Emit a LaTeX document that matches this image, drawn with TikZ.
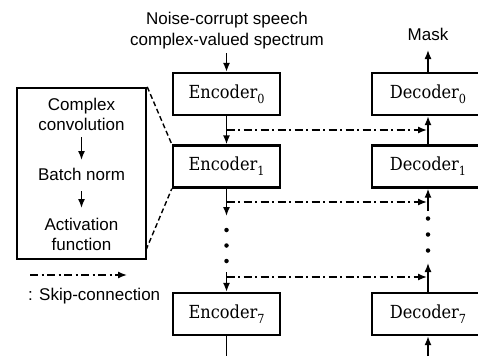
\documentclass[tikz,border=0pt]{standalone}
\usepackage{fontspec}
\setsansfont{Liberation Sans}
\newfontfamily\boxfont{DejaVu Serif Condensed}
\newcommand{\bsub}[1]{\raisebox{-0.28em}{\fontsize{12.5}{13}\selectfont #1}}
\usetikzlibrary{arrows.meta}
\begin{document}
\begin{tikzpicture}[x=1pt,y=-1pt,
 box/.style={draw,line width=2.4pt,minimum width=107pt,minimum height=42pt,inner sep=0pt,font=\boxfont\fontsize{18}{22}\selectfont},
 lbl/.style={font=\sffamily\fontsize{17}{20}\selectfont,inner sep=0pt,anchor=base},
 arr/.style={line width=1.4pt,-{Latex[length=9pt,width=7pt]}},
 ln/.style={line width=1.4pt},
 skipc/.style={line width=1.4pt,dash pattern=on 8pt off 3.5pt on 2pt off 3.5pt,-{Latex[length=9pt,width=7pt]}},
 dotn/.style={circle,fill,inner sep=0pt,minimum size=4.5pt},
 zoomln/.style={line width=1.4pt,dash pattern=on 5pt off 3pt}]
\useasboundingbox (0,0) rectangle (478,356);
% input / output labels
\node[lbl] (in1) at (227,24) {Noise-corrupt speech};
\node[lbl] (in2) at (227,45) {complex-valued spectrum};
\node[lbl] (mask) at (428,40) {Mask};
% encoder / decoder boxes
\node[box] (e0) at (226.5,94) {Encoder\bsub{0}};
\node[box] (e1) at (226.5,166.5) {Encoder\bsub{1}};
\node[box] (e7) at (226.5,314) {Encoder\bsub{7}};
\node[box] (d0) at (425.5,94) {\kern5pt Decoder\bsub{0}};
\node[box] (d1) at (425.5,166.5) {\kern5pt Decoder\bsub{1}};
\node[box] (d7) at (425.5,314) {\kern5pt Decoder\bsub{7}};
% encoder column
\coordinate (inA) at (226.5,53);
\draw[arr] (inA) -- (e0.north);
\draw[arr] (e0.south) -- (e1.north);
\coordinate (e1out) at (226.5,216);
\draw[arr] (e1.south) -- (e1out);
\node[dotn] (ed1) at (226.5,230) {};
\node[dotn] (ed2) at (226.5,245.5) {};
\node[dotn] (ed3) at (226.5,261) {};
\coordinate (e7in) at (226.5,272);
\draw[arr] (e7in) -- (e7.north);
\coordinate (ebot) at (226.5,356);
\draw[ln] (e7.south) -- (ebot);
% decoder column
\coordinate (dc) at (428,0);
\coordinate (mk) at (428,50);
\draw[arr] (d0.north -| dc) -- (mk);
\draw[arr] (d1.north -| dc) -- (d0.south -| dc);
\coordinate (d1in) at (428,211);
\draw[arr] (d1in) -- (d1.south -| dc);
\node[dotn] (dd1) at (428,218.5) {};
\node[dotn] (dd2) at (428,234.5) {};
\node[dotn] (dd3) at (428,250.5) {};
\coordinate (d7out) at (428,263);
\draw[arr] (d7.north -| dc) -- (d7out);
\coordinate (dbot) at (428,356);
\draw[arr] (dbot) -- (d7.south -| dc);
% skip connections
\coordinate (s1a) at (226.5,130); \coordinate (s1b) at (427,130);
\coordinate (s2a) at (226.5,202); \coordinate (s2b) at (427,202);
\coordinate (s3a) at (226.5,277); \coordinate (s3b) at (427,277);
\draw[skipc] (s1a) -- (s1b);
\draw[skipc] (s2a) -- (s2b);
\draw[skipc] (s3a) -- (s3b);
% detail block
\node[draw,line width=2.4pt,minimum width=129pt,minimum height=171pt,inner sep=0pt] (blk) at (81.5,173.5) {};
\node[lbl] (c1) at (81.5,110) {Complex};
\node[lbl] (c2) at (81.5,130) {convolution};
\node[lbl] (bn) at (81.5,180) {Batch norm};
\node[lbl] (a1) at (81.5,230) {Activation};
\node[lbl] (a2) at (81.5,250) {function};
\coordinate (ba1) at (81.5,137); \coordinate (ba2) at (81.5,160);
\coordinate (ba3) at (81.5,191); \coordinate (ba4) at (81.5,208);
\draw[arr] (ba1) -- (ba2);
\draw[arr] (ba3) -- (ba4);
\coordinate (blkb) at (146,250);
\draw[zoomln] (blk.north east) -- (e1.north west);
\draw[zoomln] (blkb) -- (e1.south west);
% legend
\coordinate (lg1) at (30,275); \coordinate (lg2) at (127,275);
\draw[skipc] (lg1) -- (lg2);
\node[lbl,anchor=base west] (lgt) at (28,300) {: Skip-connection};
\end{tikzpicture}
\end{document}
